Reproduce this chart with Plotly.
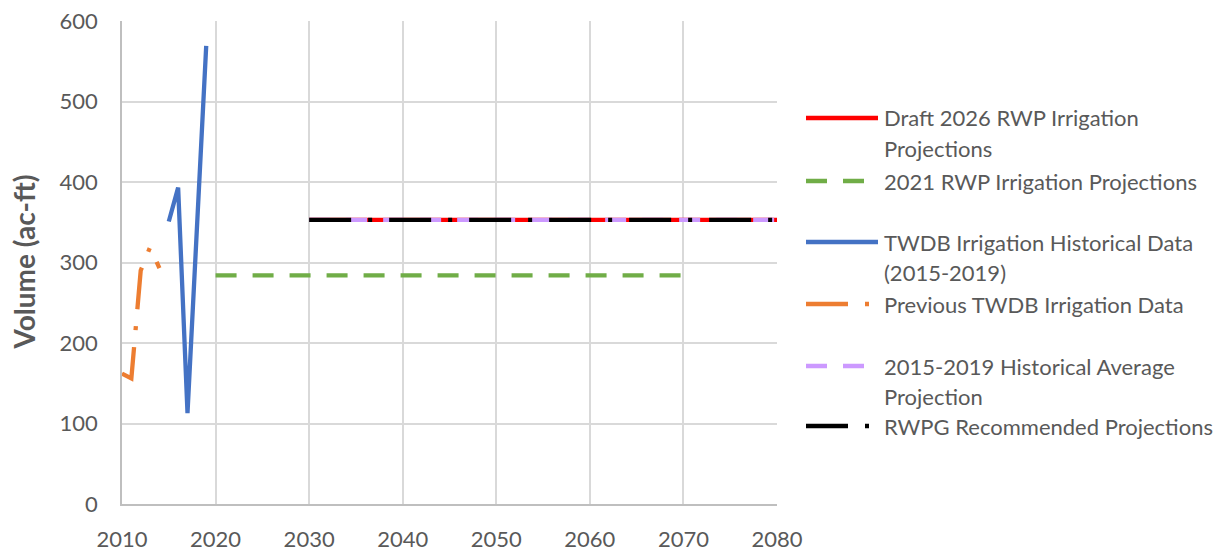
import plotly.graph_objects as go

# Irrigation volumes (ac-ft) by year
prev_years = [2010, 2011, 2012, 2013, 2014]
prev_vals = [162, 156, 290, 319, 293]

hist_years = [2015, 2016, 2017, 2019]
hist_vals = [351, 393, 113, 569]

rwp2021_years = [2020, 2030, 2040, 2050, 2060, 2070]
rwp2021_vals = [284, 284, 284, 284, 284, 284]

proj_years = [2030, 2040, 2050, 2060, 2070, 2080]
draft2026_vals = [353, 353, 353, 353, 353, 353]
hist_avg_vals = [353, 353, 353, 353, 353, 353]
rwpg_vals = [353, 353, 353, 353, 353, 353]

x_ticks = [2010, 2020, 2030, 2040, 2050, 2060, 2070, 2080]
y_ticks = [0, 100, 200, 300, 400, 500, 600]

FONT = "Lato"
GREY = "#595959"
W, H = 1225, 554
ML, MR, MT, MB = 122, 448, 21, 50

LONG_DASH_DOT = "42px,17px,4px,17px"
DASH = "21px,16px"

series = [
    dict(name="Draft 2026 RWP Irrigation Projections", x=proj_years, y=draft2026_vals,
         color="#ff0000", dash="solid",
         label=["Draft 2026 RWP Irrigation", "Projections"]),
    dict(name="2021 RWP Irrigation Projections", x=rwp2021_years, y=rwp2021_vals,
         color="#70ad47", dash=DASH, label=["2021 RWP Irrigation Projections"]),
    dict(name="TWDB Irrigation Historical Data (2015-2019)", x=hist_years, y=hist_vals,
         color="#4472c4", dash="solid",
         label=["TWDB Irrigation Historical Data", "(2015-2019)"]),
    dict(name="Previous TWDB Irrigation Data", x=prev_years, y=prev_vals,
         color="#ed7d31", dash=LONG_DASH_DOT, label=["Previous TWDB Irrigation Data"]),
    dict(name="2015-2019 Historical Average Projection", x=proj_years, y=hist_avg_vals,
         color="#cc99ff", dash=DASH,
         label=["2015-2019 Historical Average", "Projection"]),
    dict(name="RWPG Recommended Projections", x=proj_years, y=rwpg_vals,
         color="#000000", dash=LONG_DASH_DOT, label=["RWPG Recommended Projections"]),
]

fig = go.Figure()
for s in series:
    fig.add_trace(go.Scatter(
        x=s["x"], y=s["y"], mode="lines", name=s["name"], showlegend=False,
        line=dict(color=s["color"], width=4.3, dash=s["dash"]),
    ))

# Legend panel on the right, laid out in pixels
plot_w = W - ML - MR
plot_h = H - MT - MB


def px_to_paper_x(p):
    return (p - ML) / plot_w


def px_to_paper_y(p):
    return (H - MB - p) / plot_h


key_x0, key_x1, text_x = 806, 878, 882
row_y = [118, 181, 242, 304, 366, 426]
line_gap = 30
shapes = []
annotations = []
for s, yy in zip(series, row_y):
    shapes.append(dict(
        type="line", xref="paper", yref="paper",
        x0=px_to_paper_x(key_x0), x1=px_to_paper_x(key_x1),
        y0=px_to_paper_y(yy), y1=px_to_paper_y(yy),
        line=dict(color=s["color"], width=4.3, dash=s["dash"]),
    ))
    for i, txt in enumerate(s["label"]):
        annotations.append(dict(
            xref="paper", yref="paper", x=px_to_paper_x(text_x),
            y=px_to_paper_y(yy + i * line_gap), text=txt, showarrow=False,
            xanchor="left", yanchor="middle",
            font=dict(family=FONT, size=22, color=GREY),
        ))

# Y axis title
annotations.append(dict(
    xref="paper", yref="paper", x=px_to_paper_x(23), y=0.5,
    text="<b>Volume (ac-ft)</b>", textangle=-90, showarrow=False,
    xanchor="center", yanchor="middle",
    font=dict(family=FONT, size=28, color=GREY),
))

fig.update_layout(
    width=W, height=H,
    margin=dict(l=ML, r=MR, t=MT, b=MB, autoexpand=False),
    paper_bgcolor="white", plot_bgcolor="white",
    font=dict(family=FONT, size=22, color=GREY),
    shapes=shapes, annotations=annotations,
    showlegend=False,
)
fig.update_xaxes(
    range=[2010, 2080], tickvals=x_ticks, ticktext=[str(t) for t in x_ticks],
    showgrid=True, gridcolor="#d9d9d9", gridwidth=1.5,
    showline=True, linecolor="#bfbfbf", linewidth=1.5,
    zeroline=False, ticks="", ticklabelstandoff=15, automargin=False,
    tickfont=dict(family=FONT, size=22, color=GREY),
)
fig.update_yaxes(
    range=[0, 600], tickvals=y_ticks,
    showgrid=True, gridcolor="#d9d9d9", gridwidth=1.5,
    showline=True, linecolor="#bfbfbf", linewidth=1.5,
    zeroline=False, ticks="", ticklabelstandoff=18, automargin=False,
    tickfont=dict(family=FONT, size=22, color=GREY),
)

fig.write_html("out.html")
